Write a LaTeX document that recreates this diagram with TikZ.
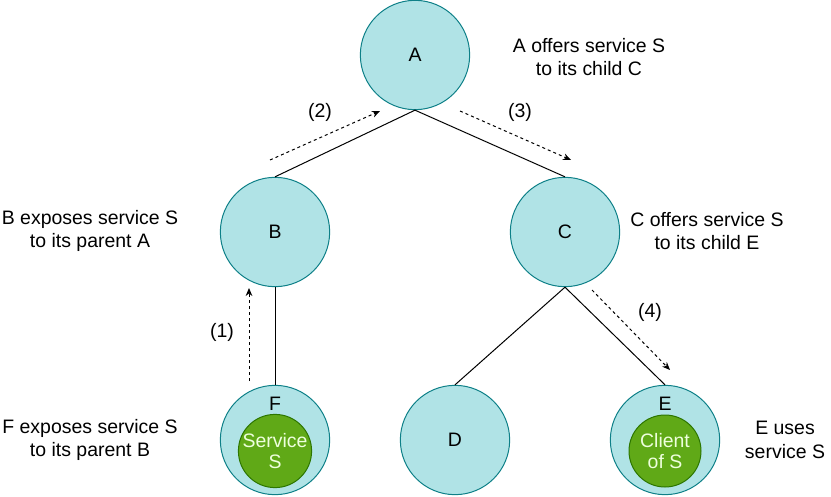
\documentclass[tikz,border=0pt]{standalone}
\usepackage{fontspec}
\setmainfont{Liberation Sans}
\usetikzlibrary{arrows.meta}
\definecolor{nodefill}{HTML}{B0E3E6}
\definecolor{nodeline}{HTML}{0E8088}
\definecolor{greenfill}{HTML}{60A917}
\definecolor{greenline}{HTML}{2D7600}
\definecolor{greentext}{HTML}{EEFFDD}
\begin{document}
\begin{tikzpicture}[x=0.75pt,y=-0.75pt,
  every node/.style={font=\fontsize{14.6}{17.6}\selectfont},
  treenode/.style={circle,draw=nodeline,fill=nodefill,line width=0.75pt,minimum size=82pt,inner sep=0pt},
  innernode/.style={circle,draw=greenline,fill=greenfill,line width=0.75pt,minimum size=54pt,inner sep=0pt,text=greentext,align=center},
  letter/.style={inner sep=0pt},
  desc/.style={align=center,inner sep=0pt},
  edge/.style={line width=0.75pt,black},
  flow/.style={line width=0.75pt,dash pattern=on 2.25pt off 2.25pt,-{Stealth[length=6pt,width=5pt]}},
  steplabel/.style={inner sep=0pt}]
\useasboundingbox (0,0) rectangle (831,496);
% tree nodes
\node[treenode] (A) at (415,55) {};
\node[treenode] (B) at (275,232) {};
\node[treenode] (C) at (565,232) {};
\node[treenode] (F) at (275,440) {};
\node[treenode] (D) at (455,440) {};
\node[treenode] (E) at (665,440) {};
\node[letter] (Alab) at (415,55) {A};
\node[letter] (Blab) at (275,232) {B};
\node[letter] (Clab) at (565,232) {C};
\node[letter] (Dlab) at (455,440) {D};
\node[letter] (Flab) at (275,404) {F};
\node[letter] (Elab) at (665,404) {E};
\node[innernode] (Fin) at (275,451) {Service\\[-2.5pt]S};
\node[innernode] (Ein) at (665,451) {Client\\[-2.5pt]of S};
% edges
\draw[edge] (A.south) -- (B.north);
\draw[edge] (A.south) -- (C.north);
\draw[edge] (B.south) -- (F.north);
\draw[edge] (C.south) -- (D.north);
\draw[edge] (C.south) -- (E.north);
% flow arrows
\coordinate (f1s) at (249,381);
\coordinate (f1e) at (249,288);
\coordinate (f2s) at (270,160);
\coordinate (f2e) at (380,111);
\coordinate (f3s) at (460,111);
\coordinate (f3e) at (571,160);
\coordinate (f4s) at (592,290);
\coordinate (f4e) at (670,370);
\draw[flow] (f1s) -- (f1e);
\draw[flow] (f2s) -- (f2e);
\draw[flow] (f3s) -- (f3e);
\draw[flow] (f4s) -- (f4e);
\node[steplabel] (l1) at (222,332) {(1)};
\node[steplabel] (l2) at (320,112) {(2)};
\node[steplabel] (l3) at (520,112) {(3)};
\node[steplabel] (l4) at (650,312) {(4)};
% descriptions
\node[desc] (dA) at (589,57) {A offers service S\\to its child C};
\node[desc] (dB) at (90,231) {B exposes service S\\to its parent A};
\node[desc] (dC) at (707,231) {C offers service S\\to its child E};
\node[desc] (dF) at (90,440) {F exposes service S\\to its parent B};
\node[desc] (dE) at (785,440) {E uses\\service S};
\end{tikzpicture}
\end{document}
